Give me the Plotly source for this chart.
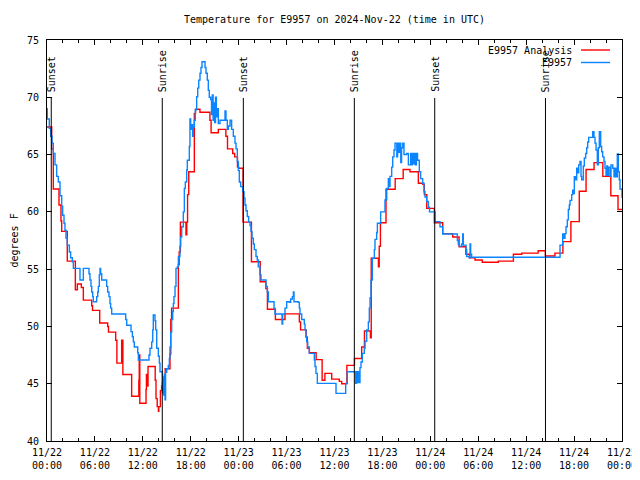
import pandas as pd
import plotly.graph_objects as go

# ---------------- data ----------------
start_time = "2024-11-22 00:00"
end_time = "2024-11-25 00:00"

analysis_hours = [0.0, 0.59, 0.79, 1.5, 1.75, 1.84, 2.54, 3.55, 3.8, 4.3, 4.55, 5.6, 5.7, 6.6, 7.6, 7.7,
                  8.6, 8.75, 9.35, 9.5, 10.6, 11.5, 11.55, 11.62, 12.4, 12.45, 12.55, 12.65, 13.55, 13.65,
                  13.8, 13.95, 14.0, 14.2, 14.35, 14.45, 14.55, 14.65, 14.8, 15.4, 15.5, 15.6, 16.45, 16.55,
                  16.7, 17.4, 17.5, 17.6, 17.75, 18.45, 18.6, 19.15, 20.4, 20.55, 21.45, 22.4, 22.6, 23.25,
                  23.5, 23.85, 24.0, 24.55, 25.6, 26.7, 27.4, 27.6, 28.6, 29.8, 31.6, 31.75, 32.45, 32.6,
                  32.85, 33.7, 34.45, 34.8, 35.65, 36.6, 36.9, 37.55, 38.5, 39.4, 39.75, 40.5, 40.6, 41.5,
                  41.6, 41.75, 42.45, 43.6, 44.6, 45.45, 46.5, 47.05, 47.25, 47.55, 48.5, 49.55, 50.8, 51.6,
                  52.45, 52.9, 53.6, 54.5, 56.5, 58.4, 59.45, 61.5, 62.4, 63.6, 64.6, 65.6, 66.65, 67.5,
                  68.5, 69.6, 70.6, 71.5, 72.0]
analysis_temps = [67.4, 65.5, 62.0, 60.6, 59.2, 58.3, 55.7, 53.2, 53.7, 53.4, 52.3, 51.8, 51.4, 50.3, 50.0, 49.5,
                  48.8, 46.8, 48.8, 45.8, 43.9, 45.3, 47.5, 43.3, 44.5, 45.8, 44.8, 46.5, 45.3, 43.7,
                  43.0, 42.6, 43.0, 44.4, 44.8, 45.1, 44.7, 45.1, 46.3, 47.6, 50.6, 51.6, 55.4, 56.5,
                  59.1, 58.0, 59.1, 61.5, 63.5, 68.6, 68.95, 68.7, 68.0, 66.9, 67.2, 66.6, 65.5, 65.1,
                  64.8, 63.9, 63.8, 59.1, 55.65, 53.9, 53.3, 51.5, 50.6, 51.1, 50.4, 49.7, 49.05, 48.1,
                  47.7, 47.1, 45.3, 45.9, 45.4, 45.2, 45.0, 46.6, 47.2, 48.2, 49.6, 49.0, 55.95, 55.2,
                  57.0, 59.05, 61.97, 62.9, 63.7, 63.5, 62.5, 62.4, 61.5, 60.3, 59.05, 58.1, 57.8, 56.96,
                  56.3, 56.0, 55.8, 55.6, 55.7, 56.3, 56.4, 56.6, 56.15, 56.4, 57.4, 59.15, 61.8, 63.7,
                  64.3, 63.1, 61.4, 60.2, 60.2]

obs_hours = [0.0, 0.04, 0.29, 0.46, 0.63, 0.79, 1.0, 1.21, 1.42, 1.63, 1.84, 1.96, 2.13, 2.25, 2.38, 2.54,
             2.8, 2.96, 3.17, 3.3, 4.13, 4.55, 5.26, 5.38, 5.51, 5.6, 5.72, 5.8, 6.22, 6.35, 6.43, 6.55,
             6.64, 6.72, 6.85, 7.47, 7.6, 7.76, 7.89, 7.97, 8.1, 9.85, 9.98, 10.52, 10.69, 10.81, 10.93,
             11.36, 11.44, 12.77, 12.9, 13.11, 13.24, 13.31, 13.52, 13.61, 13.74, 13.94, 14.07, 14.15,
             14.45, 14.55, 14.62, 14.7, 14.78, 14.85, 14.99, 15.19, 15.32, 15.4, 15.49, 15.61, 15.74,
             15.82, 15.9, 16.03, 16.15, 16.32, 16.45, 16.65, 16.74, 16.87, 17.07, 17.2, 17.32, 17.49,
             17.57, 17.82, 17.9, 17.99, 18.12, 18.24, 18.32, 18.45, 18.57, 18.74, 18.87, 19.0, 19.16,
             19.28, 19.41, 19.79, 19.91, 20.07, 20.2, 20.32, 20.5, 20.6, 20.7, 20.8, 20.9, 21.0, 21.1,
             21.2, 21.3, 21.45, 21.66, 22.29, 22.41, 22.58, 22.7, 22.92, 23.12, 23.33, 23.54, 23.67,
             23.83, 23.96, 24.08, 24.25, 24.5, 24.67, 24.79, 24.92, 25.08, 25.25, 25.42, 25.54, 25.67,
             25.84, 25.96, 26.17, 26.33, 26.46, 26.67, 26.8, 27.42, 27.59, 27.72, 28.43, 28.55, 29.43,
             29.51, 29.8, 30.01, 30.34, 30.51, 30.72, 30.85, 30.93, 31.47, 31.6, 31.68, 31.89, 32.22,
             32.31, 32.43, 32.52, 32.64, 32.85, 33.47, 33.56, 33.68, 33.85, 36.19, 37.4, 37.6, 38.65,
             38.75, 38.85, 38.95, 39.05, 39.19, 39.32, 39.49, 39.73, 39.82, 40.03, 40.24, 40.36, 40.45,
             40.57, 40.74, 40.99, 41.07, 41.28, 41.37, 41.78, 42.32, 42.54, 42.74, 42.8, 42.95, 43.16,
             43.29, 43.45, 43.58, 43.8, 43.9, 44.05, 44.15, 44.3, 44.4, 44.55, 44.7, 45.04, 45.25,
             45.54, 45.65, 45.75, 45.85, 45.95, 46.1, 46.25, 46.4, 46.62, 46.79, 47.04, 47.21, 47.33,
             47.54, 47.75, 47.9, 48.59, 49.21, 49.55, 51.38, 51.5, 51.63, 51.93, 52.05, 52.13, 52.47,
             52.55, 52.88, 52.97, 53.05, 53.17, 64.03, 64.24, 64.57, 64.74, 64.86, 64.99, 65.15, 65.28,
             65.4, 65.49, 65.7, 65.83, 65.91, 66.03, 66.16, 66.33, 66.45, 66.58, 66.74, 66.87, 66.95,
             67.16, 67.28, 67.45, 67.58, 67.7, 67.83, 68.33, 68.49, 68.62, 68.75, 68.91, 69.03, 69.16,
             69.33, 69.45, 69.58, 69.75, 69.87, 70.0, 70.1, 70.2, 70.3, 70.5, 70.62, 70.84, 71.0,
             71.12, 71.25, 71.41, 71.54, 71.66, 71.75, 72.0]
obs_temps = [69.0, 68.1, 67.3, 66.6, 66.0, 65.1, 64.1, 63.1, 62.6, 61.4, 60.5, 59.7, 59.0, 58.4, 57.7, 57.1,
             56.5, 56.0, 55.65, 55.07, 54.05, 55.07, 54.6, 54.05, 53.5, 53.0, 52.6, 52.16, 52.6, 53.0, 53.5, 54.5,
             55.07, 54.6, 54.05, 53.5, 53.0, 52.6, 52.0, 51.6, 51.08, 50.6, 50.1, 49.55, 49.1, 48.65, 48.2,
             47.7, 47.07, 47.5, 48.1, 48.65, 49.7, 51.0, 50.5, 49.7, 48.1, 47.4, 46.8, 46.05,
             44.2, 45.6, 44.0, 45.8, 43.6, 46.0, 46.3, 46.6, 47.2, 48.2, 49.5, 50.6, 51.3,
             52.0, 52.6, 53.5, 55.07, 55.2, 56.1, 57.0, 57.8, 58.7, 60.0, 62.05, 62.6, 63.65,
             64.5, 65.7, 68.1, 67.2, 67.6, 66.6, 67.4, 68.0, 68.9, 70.05, 70.8, 71.5, 72.1,
             72.6, 73.1, 72.6, 72.1, 71.5, 70.6, 70.0, 69.8, 68.5, 70.2, 68.0, 69.5, 67.8, 70.0,
             68.3, 69.0, 67.7, 68.0, 68.8, 68.0, 67.2, 67.5, 68.0, 67.2, 66.6, 66.0, 65.5,
             64.4, 63.6, 62.6, 62.2, 61.76, 61.2, 60.6, 60.1, 59.6, 59.1, 58.8, 58.3, 57.7,
             57.2, 56.7, 56.1, 55.8, 55.2, 54.5, 54.05, 53.5, 53.0, 52.16, 51.6, 51.08, 50.2,
             51.08, 51.6, 52.16, 52.1, 52.4, 52.6, 53.0, 52.16, 52.1, 51.6, 51.08, 50.6, 50.2,
             49.7, 49.1, 48.65, 48.2, 47.65, 47.07, 46.5, 45.9, 45.03, 44.16, 45.03, 46.05, 45.03,
             46.05, 45.1, 46.05, 45.1, 46.4, 46.9, 47.65, 48.1, 48.7, 49.7, 50.4, 51.6, 52.5,
             54.05, 55.95, 56.7, 57.6, 58.2, 59.0, 60.0, 61.03, 62.05, 62.9, 62.2, 63.1, 63.9,
             64.8, 65.4, 66.0, 64.8, 66.0, 65.2, 66.0, 64.3, 65.6, 66.0, 65.0, 65.1, 64.1,
             65.1, 64.1, 65.1, 64.2, 65.1, 64.1, 65.1, 64.5, 63.5, 62.9, 62.5, 61.76, 61.3,
             60.9, 60.4, 60.0, 59.15, 58.7, 58.07, 57.5, 57.2, 57.0, 57.2, 58.07, 57.1, 56.7,
             56.1, 56.0, 57.2, 56.3, 56.04, 56.04, 57.1, 58.07, 57.7, 58.1, 58.7, 59.3, 60.2,
             60.6, 61.0, 61.5, 61.9, 61.6, 63.07, 62.8, 63.8, 63.4, 64.1, 64.4, 63.1, 62.8,
             64.0, 64.7, 65.1, 65.6, 66.1, 66.5, 67.0, 66.5, 66.0, 65.4, 64.1, 65.6, 67.0,
             65.7, 65.25, 64.8, 64.4, 63.8, 63.2, 64.0, 63.2, 63.9, 63.1, 64.1, 63.8, 63.07,
             63.8, 63.07, 65.05, 63.5, 62.8, 62.0, 61.2, 61.2]

event_times = ["2024-11-22 00:32", "2024-11-22 14:26", "2024-11-23 00:35",
               "2024-11-23 14:29", "2024-11-24 00:33", "2024-11-24 14:25"]
event_labels = ["Sunset", "Sunrise", "Sunset", "Sunrise", "Sunset", "Sunrise"]

series_names = ["E9957 Analysis", "E9957"]
series_colors = ["#ff0000", "#0a84ff"]

title_text = "Temperature for E9957 on 2024-Nov-22 (time in UTC)"
y_label = "degrees F"
y_range = [40, 75]

# ---------------- figure ----------------
base = pd.Timestamp(start_time)
t_analysis = base + pd.to_timedelta(analysis_hours, unit="h")
t_obs = base + pd.to_timedelta(obs_hours, unit="h")

FONT = "DejaVu Sans Mono"
# the page places the figure 8px from the top-left corner; keep the page within the window
FIG_W, FIG_H = 632, 464

fig = go.Figure()
fig.add_trace(go.Scatter(x=t_analysis, y=analysis_temps, mode="lines", name=series_names[0],
                         line=dict(color=series_colors[0], width=1.4, shape="hv"), showlegend=False))
fig.add_trace(go.Scatter(x=t_obs, y=obs_temps, mode="lines", name=series_names[1],
                         line=dict(color=series_colors[1], width=1.4, shape="hv"), showlegend=False))

# sunrise / sunset markers
line_top = (441 - 98) / 401.0
label_bottom = (441 - 92) / 401.0
for t, lab in zip(event_times, event_labels):
    fig.add_shape(type="line", xref="x", yref="paper", x0=t, x1=t, y0=0, y1=line_top,
                  line=dict(color="black", width=1), layer="above")
    fig.add_annotation(x=t, y=label_bottom, xref="x", yref="paper", text=lab, textangle=-90,
                       showarrow=False, xanchor="center", yanchor="bottom", xshift=0, yshift=-2,
                       font=dict(family=FONT, size=10, color="black"))

# gnuplot-style legend (text right, sample line to the right)
leg_y = [(441 - 50) / 401.0, (441 - 62.5) / 401.0]
for name, col, yy in zip(series_names, series_colors, leg_y):
    fig.add_annotation(x=(574 - 47) / 575.0, y=yy, xref="paper", yref="paper", text=name,
                       showarrow=False, xanchor="right", yanchor="middle",
                       font=dict(family=FONT, size=10, color="black"))
    fig.add_shape(type="line", xref="paper", yref="paper", x0=(581 - 47) / 575.0, x1=(610 - 47) / 575.0,
                  y0=yy, y1=yy, line=dict(color=col, width=1.4))

# y axis title
fig.add_annotation(x=(14 - 47) / 575.0, y=0.5, xref="paper", yref="paper", text=y_label, textangle=-90,
                   showarrow=False, xanchor="center", yanchor="middle",
                   font=dict(family=FONT, size=10, color="black"))

fig.update_layout(
    width=FIG_W, height=FIG_H,
    margin=dict(l=39, r=18, t=32, b=31, pad=0, autoexpand=False),
    paper_bgcolor="white", plot_bgcolor="white",
    font=dict(family=FONT, size=10, color="black"),
    title=dict(text=title_text, x=0.5, xref="paper", y=1 - 11 / FIG_H, yref="container",
               xanchor="center", yanchor="middle", automargin=False,
               font=dict(family=FONT, size=10, color="black")),
    showlegend=False,
)
fig.update_xaxes(
    range=[start_time, end_time], type="date", automargin=False,
    tick0=start_time, dtick=6 * 3600 * 1000, tickformat="%m/%d<br>%H:%M",
    ticks="inside", ticklen=5, tickcolor="black", tickwidth=1,
    minor=dict(dtick=2 * 3600 * 1000, ticks="inside", ticklen=3, tickcolor="black"),
    showline=True, linecolor="black", linewidth=1, mirror="ticks",
    showgrid=False, zeroline=False, ticklabelstandoff=2,
)
fig.update_yaxes(
    range=y_range, dtick=5, tick0=40, automargin=False,
    ticks="inside", ticklen=5, tickcolor="black", tickwidth=1,
    showline=True, linecolor="black", linewidth=1, mirror="ticks",
    showgrid=False, zeroline=False, ticklabelstandoff=5,
)

fig.write_html("out.html")
